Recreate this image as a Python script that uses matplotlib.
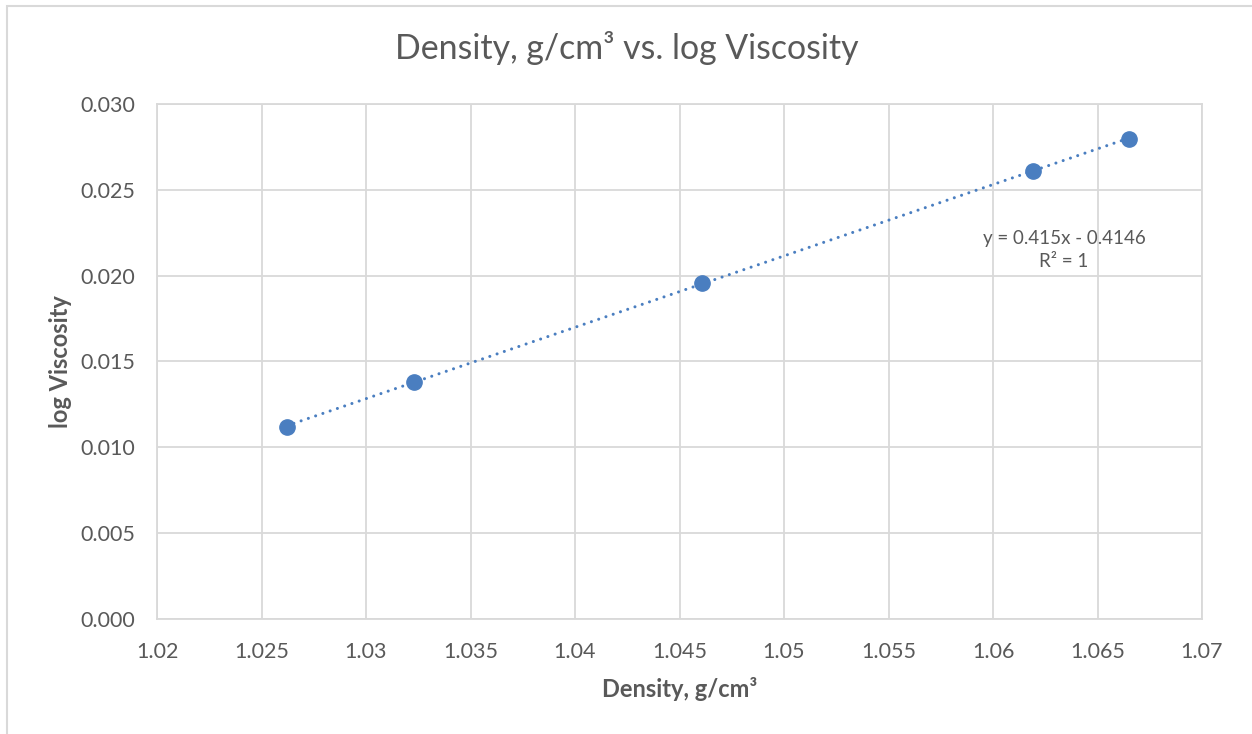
import numpy as np
import matplotlib.pyplot as plt
from matplotlib.patches import Rectangle

# Данные
density = [1.0262, 1.0323, 1.0461, 1.0619, 1.0665]
log_viscosity = [0.0112, 0.0138, 0.0196, 0.0261, 0.0280]
x_ticks = [1.02, 1.025, 1.03, 1.035, 1.04, 1.045, 1.05, 1.055, 1.06, 1.065, 1.07]
x_tick_labels = ['1.02', '1.025', '1.03', '1.035', '1.04', '1.045', '1.05',
                 '1.055', '1.06', '1.065', '1.07']
y_ticks = [0.0, 0.005, 0.010, 0.015, 0.020, 0.025, 0.030]
equation = 'y = 0.415x - 0.4146\nR² = 1'

TEXT = '#595959'
GRID = '#D9D9D9'
BLUE = '#4A7EC0'

plt.rcParams['font.family'] = ['Lato', 'DejaVu Sans']

fig = plt.figure(figsize=(12.52, 7.34), dpi=100)
ax = fig.add_axes([157 / 1252, 1 - 618.6 / 734, 1045 / 1252, 514.3 / 734])

# Рамка диаграммы
fig.patches.append(Rectangle((6.5 / 1252, -0.01), 1.1, 1 - 5.5 / 734 + 0.01,
                             transform=fig.transFigure, fill=False,
                             edgecolor=GRID, linewidth=1.5))

# Линия тренда
coef = np.polyfit(density, log_viscosity, 1)
xs = np.array([min(density), max(density)])
ax.plot(xs, np.polyval(coef, xs), linestyle=(0, (0.01, 2.5)), color=BLUE,
        linewidth=2.2, dash_capstyle='round', zorder=2)

ax.plot(density, log_viscosity, 'o', color=BLUE, markersize=11, zorder=3)

ax.set_xlim(1.02, 1.07)
ax.set_ylim(0, 0.03)
ax.set_xticks(x_ticks)
ax.set_xticklabels(x_tick_labels)
ax.set_yticks(y_ticks)
ax.set_yticklabels([f'{v:.3f}' for v in y_ticks])
ax.grid(True, color=GRID, linewidth=1.3)
ax.set_axisbelow(True)
for s in ax.spines.values():
    s.set_color(GRID)
    s.set_linewidth(1.3)
ax.tick_params(length=0, labelsize=15.5, labelcolor=TEXT)
ax.tick_params(axis='x', pad=17)
ax.tick_params(axis='y', pad=16)

ax.set_xlabel('Density, g/cm³', fontsize=17, fontweight='bold', color=TEXT, labelpad=11)
ax.set_ylabel('log Viscosity', fontsize=17, fontweight='bold', color=TEXT, labelpad=6)
# Заголовок по центру всей диаграммы
fig.text(627 / 1252, 1 - 48 / 734, 'Density, g/cm³ vs. log Viscosity', fontsize=24.4,
         color=TEXT, ha='center', va='center')

ax.text(1.0634, 0.0215, equation, ha='center', va='center', fontsize=13.5,
        color=TEXT, linespacing=1.4)

fig.savefig('out.png', dpi=100)
